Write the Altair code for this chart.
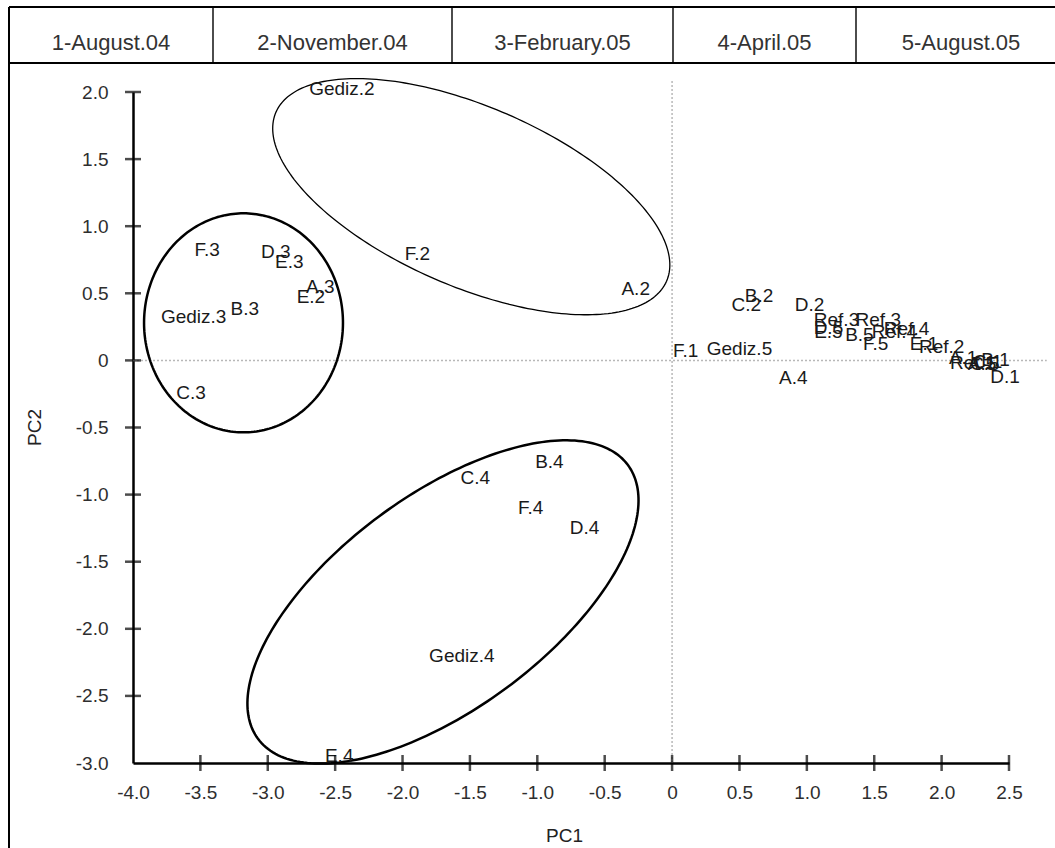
import altair as alt
import numpy as np
import pandas as pd

# ---------------- data ----------------
labels = ["Gediz.2", "F.2", "A.2",
          "F.3", "D.3", "E.3", "A.3", "E.2", "B.3", "Gediz.3", "C.3",
          "B.4", "C.4", "F.4", "D.4", "Gediz.4", "E.4",
          "F.1", "Gediz.5", "B.2", "C.2", "D.2", "A.4",
          "Ref.3", "Ref.3", "D.5", "E.5", "B.5", "F.5", "Ref.4", "Ref.4",
          "E.1", "Ref.2", "A.1", "Ref.1", "A.5", "C.5", "C.1", "B.1", "D.1"]
pc1 = [-2.45, -1.89, -0.27,
       -3.45, -2.94, -2.84, -2.61, -2.68, -3.17, -3.55, -3.57,
       -0.91, -1.46, -1.05, -0.65, -1.56, -2.47,
       0.10, 0.50, 0.645, 0.55, 1.02, 0.90,
       1.22, 1.53, 1.16, 1.16, 1.39, 1.51, 1.65, 1.74,
       1.87, 2.00, 2.16, 2.23, 2.30, 2.32, 2.34, 2.40, 2.47]
pc2 = [2.02, 0.79, 0.53,
       0.82, 0.81, 0.73, 0.55, 0.47, 0.38, 0.32, -0.24,
       -0.76, -0.88, -1.10, -1.25, -2.20, -2.95,
       0.07, 0.085, 0.48, 0.41, 0.41, -0.13,
       0.30, 0.30, 0.24, 0.21, 0.19, 0.12, 0.21, 0.234,
       0.12, 0.10, 0.02, -0.02, -0.03, -0.03, -0.01, 0.0, -0.12]

periods = ["1-August.04", "2-November.04", "3-February.05", "4-April.05", "5-August.05"]

x_ticks = [-4.0, -3.5, -3.0, -2.5, -2.0, -1.5, -1.0, -0.5, 0.0, 0.5, 1.0, 1.5, 2.0, 2.5]
y_ticks = [-3.0, -2.5, -2.0, -1.5, -1.0, -0.5, 0.0, 0.5, 1.0, 1.5, 2.0]

# group ellipses (centre, semi-axes, rotation in degrees)
ell_names = ["time2", "time3", "time4"]
ell_cx = [-1.49, -3.18, -1.70]
ell_cy = [1.22, 0.28, -1.80]
ell_a = [1.58, 0.738, 1.71]
ell_b = [0.67, 0.816, 0.795]
ell_ang = [-23.5, 0.0, 36.7]
ell_w = [1.3, 2.5, 2.5]

# ---------------- layout ----------------
W, H = 876, 671
LEFT, TOP, RIGHT, BOTTOM = 133, 92, 46, 85
FONT = "Liberation Sans, Arial, Helvetica, sans-serif"

xs = alt.Scale(domain=[-4, 2.5], nice=False, zero=False)
ys = alt.Scale(domain=[-3, 2], nice=False, zero=False)
lab_expr = ("datum.value == 0 ? '0' : "
            "(datum.value < 0 ? '-' : '') + format(abs(datum.value), '.1f')")

x_axis = alt.Axis(values=x_ticks, labelExpr=lab_expr, ticks=False, grid=False,
                  domainColor="black", domainWidth=2.5, labelFont=FONT,
                  labelFontSize=19, labelColor="#2e2e2e", labelPadding=20,
                  labelFlush=False, labelOverlap=False,
                  title="PC1", titleFont=FONT, titleFontSize=19,
                  titleFontWeight="normal", titleColor="#222222",
                  titleX=431, titleY=72, titleAlign="center", titleBaseline="middle")
y_axis = alt.Axis(values=y_ticks, labelExpr=lab_expr, ticks=False, grid=False,
                  domainColor="black", domainWidth=2.5, labelFont=FONT,
                  labelFontSize=19, labelColor="#2e2e2e", labelPadding=25,
                  labelFlush=False, labelOverlap=False,
                  title="PC2", titleFont=FONT, titleFontSize=19,
                  titleFontWeight="normal", titleColor="#222222",
                  titleX=-99, titleY=335, titleAlign="center", titleBaseline="middle")

pts = pd.DataFrame({"label": labels, "pc1": pc1, "pc2": pc2})

text_layer = alt.Chart(pts).mark_text(
    font=FONT, fontSize=19, color="#1a1a1a", align="center", baseline="middle", clip=False
).encode(
    x=alt.X("pc1:Q", scale=xs, axis=x_axis),
    y=alt.Y("pc2:Q", scale=ys, axis=y_axis),
    text="label:N",
)

# ellipses
t = np.linspace(0, 2 * np.pi, 241)
rows = []
for name, cx, cy, a, b, ang, w in zip(ell_names, ell_cx, ell_cy, ell_a, ell_b, ell_ang, ell_w):
    th = np.radians(ang)
    ex = cx + a * np.cos(t) * np.cos(th) - b * np.sin(t) * np.sin(th)
    ey = cy + a * np.cos(t) * np.sin(th) + b * np.sin(t) * np.cos(th)
    for i, (xv, yv) in enumerate(zip(ex, ey)):
        rows.append({"ell": name, "i": i, "x": xv, "y": yv, "w": w})
ell_df = pd.DataFrame(rows)

ell_layer = alt.Chart(ell_df).mark_line(color="black", clip=False).encode(
    x=alt.X("x:Q", scale=xs, axis=x_axis),
    y=alt.Y("y:Q", scale=ys, axis=y_axis),
    detail="ell:N",
    order="i:Q",
    strokeWidth=alt.StrokeWidth("w:Q", scale=None, legend=None),
)

# dotted zero lines
vline = alt.Chart(pd.DataFrame({"x": [0.0], "y": [-3.0], "y2": [2.09]})).mark_rule(
    color="#b8b8b8", strokeDash=[2, 2], strokeWidth=1.5, clip=False
).encode(x=alt.X("x:Q", scale=xs, axis=x_axis), y=alt.Y("y:Q", scale=ys, axis=y_axis), y2="y2:Q")
hline = alt.Chart(pd.DataFrame({"y": [0.0], "x": [-4.0], "x2": [2.78]})).mark_rule(
    color="#b8b8b8", strokeDash=[2, 2], strokeWidth=1.5, clip=False
).encode(y=alt.Y("y:Q", scale=ys, axis=y_axis), x=alt.X("x:Q", scale=xs, axis=x_axis), x2="x2:Q")

# crossing tick marks
xtick_layer = alt.Chart(pd.DataFrame({"v": x_ticks[1:]})).mark_tick(
    orient="vertical", size=16, thickness=2.5, color="black", clip=False
).encode(x=alt.X("v:Q", scale=xs, axis=x_axis), y=alt.Y(datum=-3.0, scale=ys, axis=y_axis))
ytick_layer = alt.Chart(pd.DataFrame({"v": y_ticks[1:]})).mark_tick(
    orient="horizontal", size=16, thickness=2.5, color="black", clip=False
).encode(y=alt.Y("v:Q", scale=ys, axis=y_axis), x=alt.X(datum=-4.0, scale=xs, axis=x_axis))

# header table (page pixel coordinates, shifted to the plot origin)
cell_edges = [9, 213, 452, 673, 856, 1066]
hdr_top, hdr_bot = 7, 63
frame = [
    (9, 1070, hdr_top, hdr_top, 2.0),
    (9, 1070, hdr_bot, hdr_bot, 2.0),
    (9, 9, hdr_top, 860, 2.0),
] + [(e, e, hdr_top, hdr_bot, 1.4) for e in cell_edges[1:-1]]
frame_df = pd.DataFrame(frame, columns=["fx", "fx2", "fy", "fy2", "w"])
frame_df[["fx", "fx2"]] -= LEFT
frame_df[["fy", "fy2"]] -= TOP

frame_layer = alt.Chart(frame_df).mark_rule(color="black", clip=False).encode(
    x=alt.X("fx:Q", scale=None), x2="fx2:Q",
    y=alt.Y("fy:Q", scale=None), y2="fy2:Q",
    strokeWidth=alt.StrokeWidth("w:Q", scale=None, legend=None),
)

centers = [(cell_edges[i] + cell_edges[i + 1]) / 2 for i in range(4)] + [961]
hdr_df = pd.DataFrame({"period": periods, "cx": [c - LEFT for c in centers]})
hdr_layer = alt.Chart(hdr_df).mark_text(
    font=FONT, fontSize=22, color="#333333", align="center", baseline="alphabetic", clip=False
).encode(
    x=alt.X("cx:Q", scale=None),
    y=alt.value(50 - TOP),
    text="period:N",
)

chart = alt.layer(
    vline, hline, ell_layer, text_layer, xtick_layer, ytick_layer, frame_layer, hdr_layer
).properties(
    width=W, height=H,
    padding={"left": LEFT, "top": TOP, "right": RIGHT, "bottom": BOTTOM},
    autosize=alt.AutoSizeParams(type="none"),
    background="white",
).configure_view(stroke=None)

chart.save("out.html", embed_options={"renderer": "svg", "actions": False})
